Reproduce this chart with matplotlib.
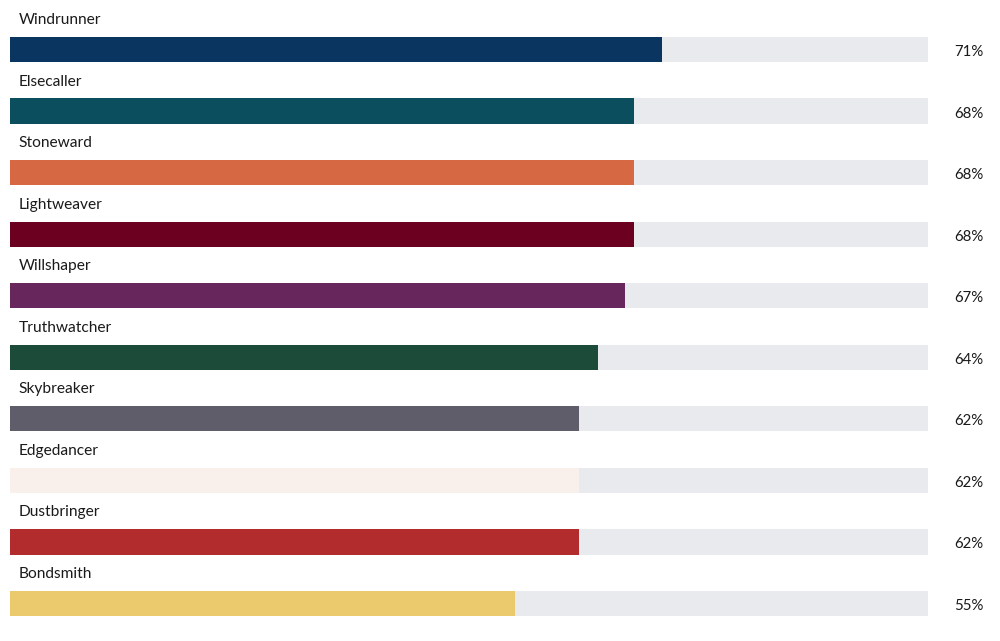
import matplotlib
matplotlib.use("Agg")
import matplotlib.pyplot as plt

plt.rcParams["font.family"] = ["Lato", "DejaVu Sans"]

orders = ["Windrunner", "Elsecaller", "Stoneward", "Lightweaver", "Willshaper",
          "Truthwatcher", "Skybreaker", "Edgedancer", "Dustbringer", "Bondsmith"]
shares = [71, 68, 68, 68, 67, 64, 62, 62, 62, 55]
colors = ["#0b3561", "#0b4f5f", "#d66943", "#6b0020", "#67265c",
          "#1c4b3a", "#5f5d6a", "#f9f0eb", "#b22c2e", "#ebc96d"]

fig = plt.figure(figsize=(10, 6.41), dpi=100)
ax = fig.add_axes([0.010, 0.0, 0.918, 1.0])

ys = list(range(len(orders)))
# grey track behind each bar, full 100%
ax.barh(ys, [100] * len(orders), height=0.41, color="#e8eaed")
ax.barh(ys, shares, height=0.41, color=colors)

for y, name, val in zip(ys, orders, shares):
    ax.text(0.95, y - 0.48, name, ha="left", va="center", fontsize=11.2, color="#1a1a1a")
    ax.text(104.5, y + 0.04, f"{val}%", ha="center", va="center", fontsize=10.8,
            color="#1a1a1a", clip_on=False)

ax.set_xlim(0, 100)
ax.set_ylim(9.609, -0.804)
ax.axis("off")

fig.savefig("out.png", dpi=100)
